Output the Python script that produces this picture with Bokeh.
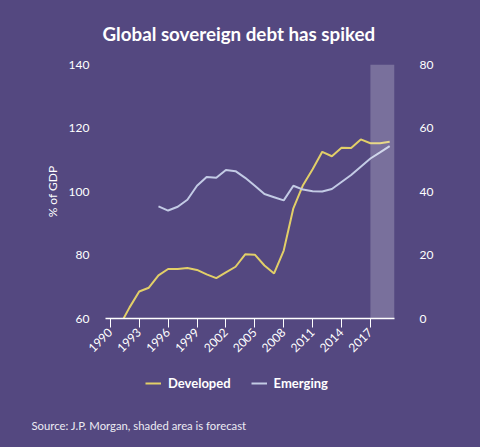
import re
from bokeh.plotting import figure
from bokeh.layouts import column
from bokeh.models import (Range1d, LinearAxis, FixedTicker, BoxAnnotation, Title,
                          Legend, LegendItem)
from bokeh.embed import file_html
from bokeh.resources import INLINE

# ---- data ----
dev_years = list(range(1990, 2020))
developed = [55.0, 57.9, 63.5, 68.5, 69.7, 73.6, 75.6, 75.6, 75.9, 75.3,
             73.9, 72.7, 74.5, 76.3, 80.2, 80.1, 76.7, 74.2, 81.4, 94.7,
             102.0, 107.0, 112.5, 111.1, 113.8, 113.7, 116.4, 115.2, 115.2, 115.7]
emg_years = list(range(1995, 2020))
emerging = [35.3, 34.0, 35.2, 37.4, 41.8, 44.6, 44.3, 46.8, 46.4, 44.3,
            41.8, 39.2, 38.2, 37.2, 41.8, 40.6, 40.1, 40.0, 40.8, 43.0,
            45.2, 47.8, 50.4, 52.3, 54.3]
year_ticks = list(range(1990, 2018, 3))
left_ticks = [60, 80, 100, 120, 140]
right_ticks = [0, 20, 40, 60, 80]
forecast_start = 2017
title_text = "Global sovereign debt has spiked"
source_text = "Source: J.P. Morgan, shaded area is forecast"
y_label = "% of GDP"
series_names = ["Developed", "Emerging"]

BG = "#544880"
FONT = "Lato"
WHITE = "#ffffff"
YELLOW = "#e2cf68"
LIGHT = "#c3cbe5"
CSS = {"background-color": BG}

H1 = 360
p = figure(width=480, height=H1, output_backend="svg", toolbar_location=None,
           x_range=Range1d(1989.5, 2019.5), y_range=Range1d(60, 140),
           x_axis_location=None, y_axis_location=None,
           min_border_left=105, min_border_right=86,
           min_border_top=64, min_border_bottom=H1 - 318)
p.background_fill_color = BG
p.border_fill_color = None
p.styles = CSS
p.outline_line_color = None
p.grid.visible = False
p.extra_y_ranges = {"emg": Range1d(0, 80)}

p.title = Title(text=title_text, align="left", offset=-3, standoff=39,
                text_color=WHITE, text_font=FONT, text_font_style="bold",
                text_font_size="18.75px")

xa = LinearAxis(ticker=FixedTicker(ticks=year_ticks))
xa.axis_line_color = WHITE
xa.axis_line_width = 1.5
xa.major_tick_line_color = WHITE
xa.major_tick_line_width = 1
xa.major_tick_out = 9
xa.major_tick_in = 0
xa.minor_tick_line_color = None
xa.major_label_orientation = 0.785398
xa.major_label_text_color = WHITE
xa.major_label_text_font = FONT
xa.major_label_text_font_size = "12px"
xa.major_label_standoff = 3
p.add_layout(xa, "below")

ya = LinearAxis(ticker=FixedTicker(ticks=left_ticks), axis_label=y_label)
ya.axis_line_color = None
ya.major_tick_line_color = None
ya.minor_tick_line_color = None
ya.major_label_text_color = WHITE
ya.major_label_text_font = FONT
ya.major_label_text_font_size = "12px"
ya.major_label_standoff = 10
ya.axis_label_text_color = WHITE
ya.axis_label_text_font = FONT
ya.axis_label_text_font_size = "12px"
ya.axis_label_text_font_style = "normal"
ya.axis_label_standoff = 6
p.add_layout(ya, "left")

ra = LinearAxis(y_range_name="emg", ticker=FixedTicker(ticks=right_ticks))
ra.axis_line_color = None
ra.major_tick_line_color = None
ra.minor_tick_line_color = None
ra.major_label_text_color = WHITE
ra.major_label_text_font = FONT
ra.major_label_text_font_size = "12px"
ra.major_label_standoff = 19
p.add_layout(ra, "right")

p.add_layout(BoxAnnotation(left=forecast_start, fill_color="#ffffff",
                           fill_alpha=0.22, line_color=None))

p.line(dev_years, developed, line_color=YELLOW, line_width=2)
p.line(emg_years, emerging, line_color=LIGHT, line_width=2, y_range_name="emg")

# ---- footer: legend + source ----
H2 = 447 - H1
FB = 30  # footer bottom border
f = figure(width=480, height=H2, output_backend="svg", toolbar_location=None,
           x_range=Range1d(0, 1), y_range=Range1d(0, 1),
           x_axis_location=None, y_axis_location=None, title_location=None,
           min_border=0, min_border_left=105, min_border_right=86,
           min_border_top=0, min_border_bottom=FB)
f.background_fill_color = BG
f.border_fill_color = None
f.styles = CSS
f.outline_line_color = None
f.grid.visible = False
# legend keys (series lie outside this footer's 0..1 ranges, so only their keys show)
g_dev = f.line(dev_years, developed, line_color=YELLOW, line_width=2)
g_emg = f.line(emg_years, emerging, line_color=LIGHT, line_width=2)

legend = Legend(items=[LegendItem(label=series_names[0], renderers=[g_dev]),
                       LegendItem(label=series_names[1], renderers=[g_emg])],
                orientation="horizontal", location=(40, (447 - FB) - 391),
                background_fill_alpha=0, border_line_color=None,
                padding=0, margin=0, spacing=20, label_standoff=7,
                glyph_width=16, glyph_height=14, label_height=14,
                label_text_font=FONT, label_text_font_style="bold",
                label_text_font_size="13px", label_text_color=WHITE)
f.add_layout(legend, "center")
f.add_layout(Title(text=source_text, align="left", offset=-74, standoff=0,
                   vertical_align="middle",
                   text_color="#ecebf3", text_font=FONT, text_font_style="normal",
                   text_font_size="11.3px"), "below")

layout = column(p, f, spacing=0)
layout.styles = CSS
html = file_html(layout, INLINE)
html = re.sub(r"<body([^>]*)>", r'<body\1 style="background:%s;">' % BG, html, count=1)
open("out.html", "w").write(html)
